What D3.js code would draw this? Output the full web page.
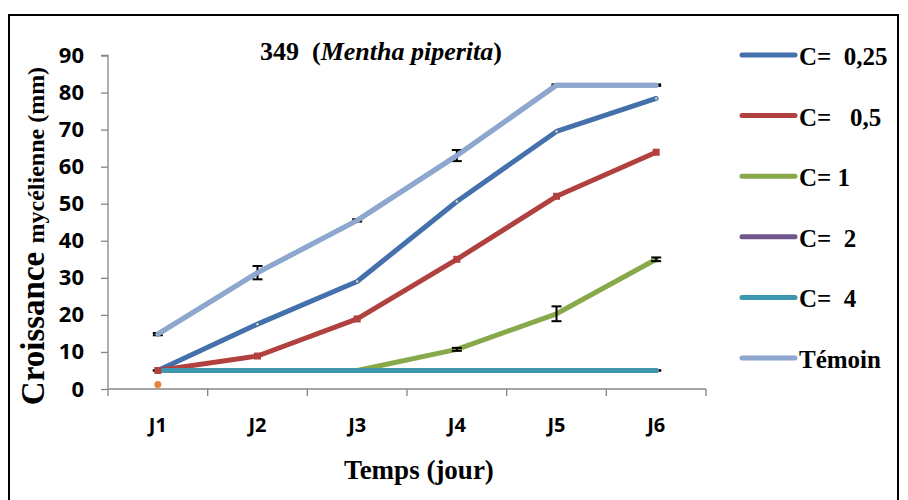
<!DOCTYPE html>
<html><head><meta charset="utf-8">
<script src="https://cdn.jsdelivr.net/npm/d3@7"></script>
<style>body{margin:0;background:#fff}svg{display:block}text{white-space:pre}</style>
</head><body>
<svg id="c" width="908" height="500"></svg>
<script>
const categories = ["J1","J2","J3","J4","J5","J6"];
const yTicks = [0,10,20,30,40,50,60,70,80,90];
const seriesNames = ["C=  0,25","C=   0,5","C= 1","C=  2","C=  4","Témoin"];
const seriesColors = ["#4470AB","#B0413E","#87A94A","#70588F","#3E97AE","#8EA7CE"];
const c025 = [5,17.5,29,50.6,69.5,78.4];
const c05 = [5,8.9,18.9,35,52,63.9];
const c1 = [5,5,5,10.7,20.3,35];
const c2 = [5,5,5,5,5,5];
const c4 = [5,5,5,5,5,5];
const temoin = [14.8,31.4,45.5,63,82,82];
const errTemoin = [0.3,1.8,0.3,1.5,0.2,0.2];
const errC1 = [0,0,0,0.4,2,0.5];
const errC4 = [0,0,0,0,0,0];
const extraPoint = [1.2];

const allSeries = [c025,c05,c1,c2,c4,temoin];
const svg = d3.select("#c");
const ser = "'Liberation Serif','Times New Roman',serif";
const sans = "'Open Sans','Liberation Sans',sans-serif";

svg.append("rect").attr("x",9).attr("y",15).attr("width",889).attr("height",500)
  .attr("fill","none").attr("stroke","#000").attr("stroke-width",2);

const x = d3.scaleBand().domain(categories).range([108,706]);
const y = d3.scaleLinear().domain([0,90]).range([389,55.5]);
const cx = d => x(d) + x.bandwidth()/2;

const gy = svg.append("g").attr("transform","translate(108,0)")
  .call(d3.axisLeft(y).tickValues(yTicks).tickSize(7).tickPadding(17));
gy.selectAll("path,line").attr("stroke","#868686").attr("stroke-width",1.3);
gy.select(".domain").attr("d","M-7,55.5H0V389");
gy.selectAll("text").attr("font-family",sans).attr("font-weight","bold").attr("font-size",22).attr("fill","#000");

const gx = svg.append("g").attr("transform","translate(0,389)");
gx.append("line").attr("x1",108).attr("x2",706).attr("stroke","#868686").attr("stroke-width",1.3);
gx.selectAll("line.t").data(categories.map(c=>x(c)).concat([706])).join("line").attr("class","t")
  .attr("x1",d=>d).attr("x2",d=>d).attr("y1",0).attr("y2",7).attr("stroke","#868686").attr("stroke-width",1.3);
gx.selectAll("text").data(categories).join("text").attr("x",d=>cx(d)).attr("y",43)
  .attr("text-anchor","middle").attr("font-family",sans).attr("font-weight","bold").attr("font-size",20).text(d=>d);

function errBars(vals, errs, skipZero){
  vals.forEach((v,i)=>{
    const e = errs[i]; const X = cx(categories[i]);
    if (skipZero && !(e > 0)) return;
    const g = svg.append("g").attr("stroke","#000").attr("stroke-width",2);
    if (e > 0) g.append("line").attr("x1",X).attr("x2",X).attr("y1",y(v+e)).attr("y2",y(v-e));
    g.append("line").attr("x1",X-5).attr("x2",X+5).attr("y1",y(v+e)).attr("y2",y(v+e));
    g.append("line").attr("x1",X-5).attr("x2",X+5).attr("y1",y(v-e)).attr("y2",y(v-e));
  });
}
// zero-size bars sit below the lines
errBars(c4, errC4, false);

const line = d3.line().x((d,i)=>cx(categories[i])).y(d=>y(d));
allSeries.forEach((s,k)=>{
  svg.append("path").datum(s).attr("d",line).attr("fill","none")
    .attr("stroke",seriesColors[k]).attr("stroke-width",5).attr("stroke-linejoin","round").attr("stroke-linecap","round");
});
svg.selectAll("circle.m025").data(c025).join("circle").attr("class","m025")
  .attr("cx",(d,i)=>cx(categories[i])).attr("cy",d=>y(d)).attr("r",1.2).attr("fill","#E8D9A0");
svg.selectAll("rect.m05").data(c05).join("rect").attr("class","m05")
  .attr("x",(d,i)=>cx(categories[i])-3.5).attr("y",d=>y(d)-3.5).attr("width",7).attr("height",7).attr("fill","#B0413E");

errBars(temoin, errTemoin, false);
errBars(c1, errC1, true);
svg.append("path").datum(temoin).attr("d",line).attr("fill","none")
  .attr("stroke",seriesColors[5]).attr("stroke-width",5).attr("stroke-linejoin","round").attr("stroke-linecap","round");

svg.selectAll("circle.ex").data(extraPoint).join("circle").attr("class","ex")
  .attr("cx",cx("J1")).attr("cy",d=>y(d)).attr("r",3.5).attr("fill","#E8823A");

const t = svg.append("text").attr("x",381).attr("y",60).attr("text-anchor","middle")
  .attr("font-family",ser).attr("font-weight","bold").attr("font-size",26);
t.append("tspan").text("349  (");
t.append("tspan").attr("font-style","italic").text("Mentha piperita");
t.append("tspan").text(")");

const yl = svg.append("text").attr("transform","translate(44,236) rotate(-90)").attr("text-anchor","middle")
  .attr("font-family",ser).attr("font-weight","bold");
yl.append("tspan").attr("font-size",33).text("Croissance ");
yl.append("tspan").attr("font-size",24).text("mycélienne (mm)");

svg.append("text").attr("x",419).attr("y",479).attr("text-anchor","middle")
  .attr("font-family",ser).attr("font-weight","bold").attr("font-size",27).text("Temps (jour)");

const legY = d3.scalePoint().domain(seriesNames).range([55,358]);
const lg = svg.append("g");
seriesNames.forEach((n,k)=>{
  const yy = legY(n);
  lg.append("line").attr("x1",742).attr("x2",795).attr("y1",yy).attr("y2",yy)
    .attr("stroke",seriesColors[k]).attr("stroke-width",5).attr("stroke-linecap","round");
  lg.append("text").attr("x",799).attr("y",yy+10).attr("font-family",ser).attr("font-weight","bold")
    .attr("font-size",25).text(n);
});
</script>
</body></html>
